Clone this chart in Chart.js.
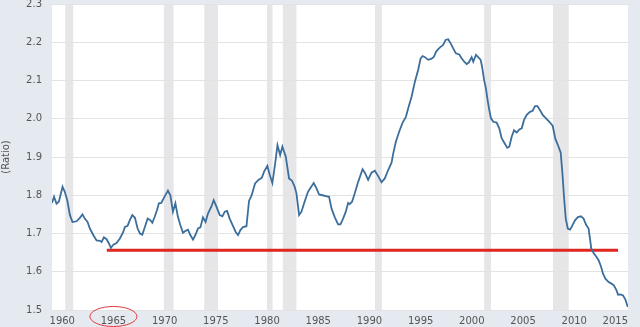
<!DOCTYPE html>
<html>
<head>
<meta charset="utf-8">
<script src="https://cdn.jsdelivr.net/npm/chart.js@4/dist/chart.umd.min.js"></script>
<style>
  html, body { margin: 0; padding: 0; background: #e4eaf0; }
  #wrap { width: 640px; height: 327px; }
</style>
</head>
<body>
<div id="wrap"><canvas id="c" width="640" height="327"></canvas></div>
<script>
// ---- data ----
const years = [
1959.0,1959.2,1959.44,1959.67,1960.03,1960.25,1960.49,1960.75,1961.0,1961.4,1961.72,1961.98,
1962.2,1962.47,1962.7,1963.03,1963.35,1963.68,1963.84,1964.07,1964.33,1964.56,1964.75,1964.99,
1965.3,1965.63,1965.96,1966.12,1966.38,1966.6,1966.84,1967.1,1967.36,1967.59,1967.82,1968.07,
1968.34,1968.6,1968.8,1969.02,1969.25,1969.44,1969.68,1969.9,1970.17,1970.32,1970.56,1970.81,
1971.05,1971.3,1971.53,1971.79,1972.05,1972.28,1972.51,1972.77,1973.0,1973.26,1973.49,1973.74,
1974.0,1974.23,1974.56,1974.79,1975.05,1975.38,1975.64,1975.87,1976.1,1976.35,1976.68,1976.94,
1977.17,1977.4,1977.65,1977.99,1978.24,1978.5,1978.83,1979.16,1979.5,1979.7,1980.03,1980.27,
1980.52,1980.79,1981.02,1981.28,1981.5,1981.83,1982.15,1982.44,1982.7,1982.87,1983.13,1983.36,
1983.69,1984.0,1984.27,1984.56,1984.83,1985.08,1985.42,1985.74,1986.06,1986.3,1986.62,1986.94,
1987.17,1987.43,1987.69,1987.92,1988.08,1988.3,1988.57,1988.9,1989.33,1989.55,1989.87,1990.2,
1990.53,1990.85,1991.18,1991.5,1991.83,1992.16,1992.32,1992.58,1992.9,1993.24,1993.56,1993.78,
1994.12,1994.44,1994.76,1995.0,1995.19,1995.42,1995.74,1996.07,1996.3,1996.5,1996.72,1996.95,
1997.2,1997.44,1997.69,1997.93,1998.18,1998.44,1998.77,1999.0,1999.26,1999.49,1999.7,1999.98,
2000.14,2000.4,2000.62,2000.86,2001.0,2001.2,2001.37,2001.54,2001.7,2001.87,2002.09,2002.42,
2002.68,2002.91,2003.24,2003.46,2003.66,2003.89,2004.12,2004.38,2004.64,2004.87,2005.1,2005.36,
2005.68,2005.94,2006.17,2006.4,2006.66,2006.92,2007.24,2007.57,2007.9,2008.15,2008.42,2008.68,
2008.87,2009.0,2009.17,2009.37,2009.6,2009.83,2010.09,2010.36,2010.65,2010.91,2011.17,2011.4,
2011.56,2011.66,2011.89,2012.16,2012.38,2012.62,2012.81,2013.04,2013.36,2013.63,2013.85,2014.12,
2014.28,2014.5,2014.77,2015.0,2015.23
];
const ratio = [
1.780,1.796,1.778,1.783,1.822,1.809,1.787,1.748,1.730,1.732,1.741,1.750,
1.739,1.730,1.713,1.696,1.682,1.681,1.678,1.690,1.685,1.674,1.662,1.671,
1.675,1.687,1.704,1.717,1.720,1.735,1.748,1.741,1.713,1.700,1.697,1.717,
1.739,1.735,1.728,1.743,1.761,1.779,1.780,1.792,1.805,1.812,1.800,1.757,
1.779,1.743,1.722,1.702,1.707,1.710,1.696,1.684,1.696,1.713,1.716,1.742,
1.730,1.752,1.770,1.787,1.771,1.748,1.745,1.757,1.759,1.739,1.719,1.704,
1.696,1.709,1.717,1.719,1.785,1.800,1.831,1.840,1.846,1.861,1.877,1.853,
1.832,1.883,1.931,1.905,1.927,1.901,1.844,1.838,1.822,1.805,1.748,1.757,
1.785,1.809,1.820,1.832,1.818,1.802,1.800,1.798,1.796,1.765,1.742,1.724,
1.724,1.739,1.757,1.780,1.777,1.783,1.805,1.835,1.868,1.859,1.840,1.859,
1.864,1.850,1.834,1.844,1.866,1.885,1.909,1.940,1.966,1.990,2.005,2.027,
2.058,2.097,2.128,2.158,2.164,2.161,2.154,2.157,2.162,2.175,2.182,2.188,
2.193,2.206,2.208,2.197,2.184,2.171,2.168,2.158,2.149,2.143,2.147,2.161,
2.149,2.167,2.161,2.154,2.136,2.101,2.080,2.049,2.023,2.001,1.992,1.990,
1.975,1.949,1.934,1.924,1.927,1.953,1.970,1.964,1.972,1.975,1.997,2.010,
2.018,2.021,2.033,2.033,2.022,2.010,2.001,1.992,1.981,1.948,1.930,1.911,
1.848,1.796,1.739,1.713,1.710,1.722,1.735,1.743,1.745,1.739,1.722,1.713,
1.682,1.661,1.649,1.639,1.630,1.613,1.595,1.582,1.573,1.569,1.565,1.552,
1.540,1.541,1.538,1.527,1.508
];
const recessionStart = [1960.29, 1969.92, 1973.87, 1980.0, 1981.54, 1990.54, 2001.21, 2007.92];
const recessionEnd   = [1961.08, 1970.87, 1975.21, 1980.54, 1982.87, 1991.21, 2001.87, 2009.46];
const xTickYears = [1960, 1965, 1970, 1975, 1980, 1985, 1990, 1995, 2000, 2005, 2010, 2015];
const refLineYears = [1964.35, 2014.28];
const refLineLevel = 1.656;
const circledYear = 1965;

// ---- drawing ----
const FONT = '"DejaVu Sans", Verdana, sans-serif';
const TEXT = '#555555';

const framePlugin = {
  id: 'frame',
  beforeDraw(chart) {
    const {ctx, chartArea: a, scales: {x}} = chart;
    ctx.save();
    ctx.fillStyle = '#e4eaf0';
    ctx.fillRect(0, 0, chart.width, chart.height);
    ctx.fillStyle = '#ffffff';
    ctx.fillRect(a.left, a.top, a.right - a.left, a.bottom - a.top);
    ctx.fillStyle = '#e6e6e8';
    for (let i = 0; i < recessionStart.length; i++) {
      const x0 = x.getPixelForValue(recessionStart[i]);
      const x1 = x.getPixelForValue(recessionEnd[i]);
      ctx.fillRect(x0, a.top, x1 - x0, a.bottom - a.top);
    }
    ctx.restore();
  },
  afterDraw(chart) {
    const {ctx, chartArea: a, scales: {x}} = chart;
    ctx.save();
    ctx.font = '10px ' + FONT;
    ctx.fillStyle = TEXT;
    ctx.textAlign = 'center';
    ctx.textBaseline = 'middle';
    xTickYears.forEach(v => {
      const label = String(v);
      const w = ctx.measureText(label).width;
      let cx = x.getPixelForValue(v);
      cx = Math.min(cx, a.right - w / 2);
      ctx.fillText(label, cx, a.bottom + 11.5);
    });
    // red ellipse around the circled year label
    ctx.strokeStyle = '#e8393c';
    ctx.lineWidth = 1;
    ctx.beginPath();
    ctx.ellipse(x.getPixelForValue(circledYear), a.bottom + 6.5, 23.5, 10, 0, 0, Math.PI * 2);
    ctx.stroke();
    ctx.restore();
  }
};

new Chart(document.getElementById('c'), {
  type: 'line',
  data: {
    datasets: [
      {
        data: years.map((yr, i) => ({x: yr, y: ratio[i]})),
        borderColor: '#3c6e9c',
        borderWidth: 1.8,
        pointRadius: 0,
        tension: 0,
        fill: false
      },
      {
        data: refLineYears.map(yr => ({x: yr, y: refLineLevel})),
        borderColor: '#e1261f',
        borderWidth: 3,
        pointRadius: 0,
        fill: false
      }
    ]
  },
  options: {
    responsive: false,
    animation: false,
    devicePixelRatio: 1,
    layout: { padding: { top: 4, right: 12, left: 0, bottom: 0 } },
    plugins: { legend: { display: false }, tooltip: { enabled: false } },
    scales: {
      x: {
        type: 'linear',
        min: 1959.0,
        max: 2015.25,
        ticks: { display: false },
        grid: { display: false },
        border: { display: false },
        afterFit(s) { s.height = 17; s.paddingLeft = 0; s.paddingRight = 0; }
      },
      y: {
        min: 1.5,
        max: 2.3,
        ticks: {
          stepSize: 0.1,
          callback: v => v.toFixed(1),
          font: { family: FONT, size: 10 },
          color: TEXT,
          padding: 10
        },
        grid: { color: '#e3e3e3', drawTicks: false, lineWidth: 1 },
        border: { display: false },
        title: {
          display: true,
          text: '(Ratio)',
          font: { family: FONT, size: 10 },
          color: TEXT,
          padding: 0
        },
        afterFit(s) { s.width = 52; s.paddingTop = 0; s.paddingBottom = 0; }
      }
    }
  },
  plugins: [framePlugin]
});
</script>
</body>
</html>
